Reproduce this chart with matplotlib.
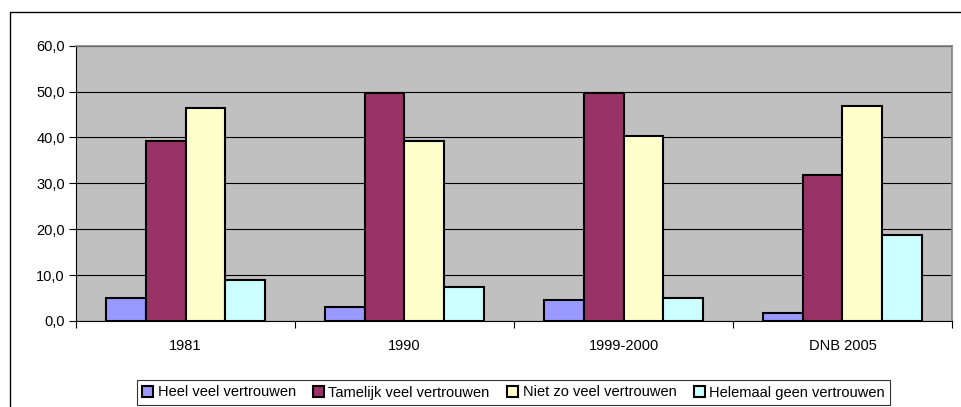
import numpy as np
import matplotlib.pyplot as plt
from matplotlib.patches import Rectangle

plt.rcParams["font.family"] = ["Liberation Sans", "DejaVu Sans"]
plt.rcParams["font.size"] = 10.5

# data
categories = ["1981", "1990", "1999-2000", "DNB 2005"]
series_names = ["Heel veel vertrouwen", "Tamelijk veel vertrouwen",
                "Niet zo veel vertrouwen", "Helemaal geen vertrouwen"]
heel_veel = [5.1, 3.1, 4.6, 1.8]
tamelijk = [39.2, 49.6, 49.6, 31.9]
niet_zo = [46.4, 39.2, 40.3, 46.9]
helemaal_geen = [8.9, 7.4, 5.0, 18.8]
yticks = [0, 10, 20, 30, 40, 50, 60]

colors = ["#9999FF", "#993366", "#FFFFCC", "#CCFFFF"]

W, H = 962, 407
fig = plt.figure(figsize=(W / 100, H / 100), dpi=100)

# chart area border (Excel style)
fig.patches.append(Rectangle((10 / W, -0.1), 1.1, 1 - 12 / H + 0.1,
                             transform=fig.transFigure, fill=False,
                             edgecolor="black", linewidth=1.0))

ax = fig.add_axes([76 / W, 1 - 321 / H, (952 - 76) / W, (321 - 45.7) / H])
ax.set_facecolor("#C0C0C0")

x = np.arange(len(categories))
bw = 1 / 5.5
all_series = [heel_veel, tamelijk, niet_zo, helemaal_geen]
for i, (vals, name, c) in enumerate(zip(all_series, series_names, colors)):
    ax.bar(x + (i - 1.5) * bw, vals, width=bw, color=c, edgecolor="black",
           linewidth=1.5, label=name, zorder=3)

ax.set_ylim(0, 60)
ax.set_xlim(-0.5, len(categories) - 0.5)
ax.set_yticks(yticks)
ax.set_yticklabels([f"{v:.1f}".replace(".", ",") for v in yticks])
ax.yaxis.grid(True, color="black", linewidth=0.8, zorder=1)
ax.set_axisbelow(True)

ax.set_xticks(x)
ax.set_xticklabels(categories)
ax.set_xticks(np.arange(len(categories) + 1) - 0.5, minor=True)
ax.tick_params(axis="x", which="major", length=0, pad=13)
ax.tick_params(axis="x", which="minor", length=5, width=0.8, direction="out")
ax.tick_params(axis="y", length=5, width=0.8, direction="out", pad=3)

for s in ["top", "right"]:
    ax.spines[s].set_color("#808080")
    ax.spines[s].set_linewidth(1.2)
for s in ["left", "bottom"]:
    ax.spines[s].set_color("black")
    ax.spines[s].set_linewidth(0.8)

leg = fig.legend(loc="center", bbox_to_anchor=(513.5 / W, 1 - 392.5 / H),
                 ncol=4, frameon=True, fancybox=False, handlelength=0.75,
                 handleheight=0.75, handletextpad=0.3, columnspacing=1.2,
                 borderpad=0.35, fontsize=10.5)
leg.get_frame().set_edgecolor("black")
leg.get_frame().set_linewidth(0.8)
for p in leg.get_patches():
    p.set_linewidth(1.5)

fig.savefig("out.png", dpi=100)
